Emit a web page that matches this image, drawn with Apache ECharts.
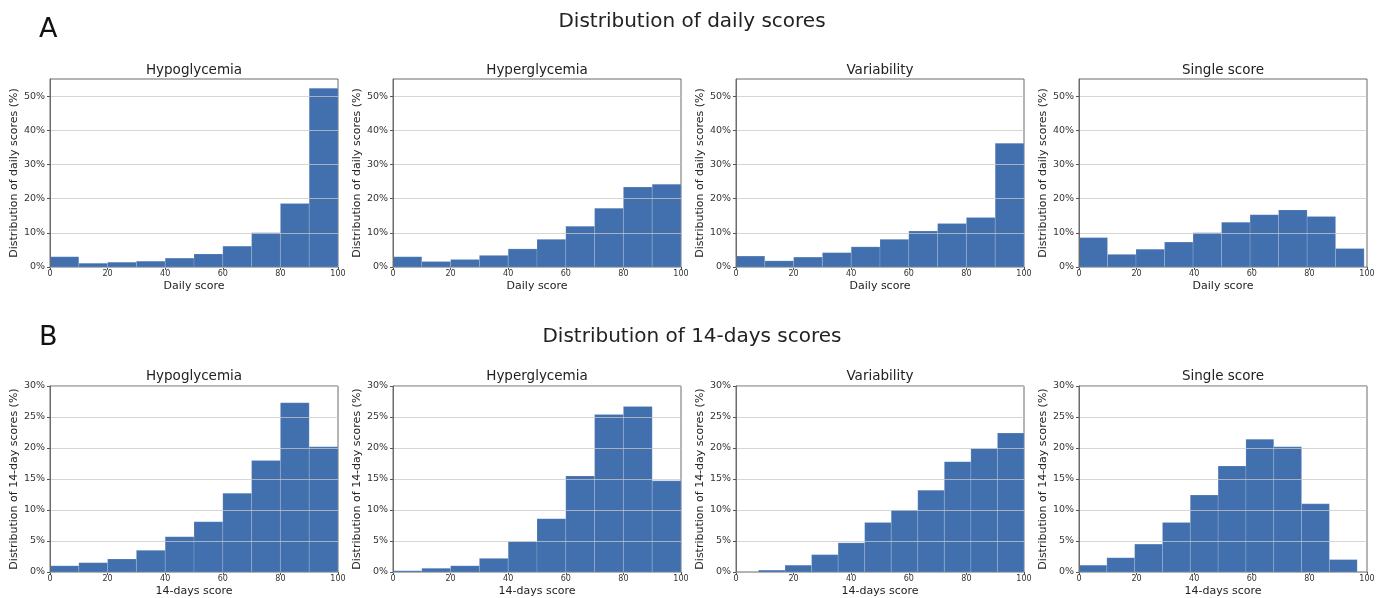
<!DOCTYPE html>
<html>
<head>
<meta charset="utf-8">
<title>Distribution of daily and 14-days scores</title>
<script src="https://cdn.jsdelivr.net/npm/echarts@6/dist/echarts.min.js"></script>
<style>
  html, body { margin: 0; padding: 0; background: #ffffff; }
  #chart { width: 1384px; height: 598px; }
</style>
</head>
<body>
<div id="chart"></div>
<script>
// ---- Panel titles and tick values ----
const panelTitles = ['Hypoglycemia', 'Hyperglycemia', 'Variability', 'Single score'];
const xTicks = [0, 20, 40, 60, 80, 100];
const dailyYTicks = [0, 10, 20, 30, 40, 50];
const twoWeekYTicks = [0, 5, 10, 15, 20, 25, 30];

// ---- Row A: daily scores, share of days per bin (%) ----
const dailyEdges = [0, 10, 20, 30, 40, 50, 60, 70, 80, 90, 100];
const dailySingleEdges = [0, 9.9, 19.8, 29.7, 39.6, 49.5, 59.4, 69.3, 79.2, 89.1, 99];
const dailyHypo = [3.0, 1.1, 1.4, 1.7, 2.6, 3.8, 6.1, 10.0, 18.6, 52.3];
const dailyHyper = [3.0, 1.6, 2.2, 3.4, 5.3, 8.1, 11.9, 17.2, 23.4, 24.2];
const dailyVar = [3.2, 1.8, 2.9, 4.2, 5.9, 8.1, 10.5, 12.7, 14.5, 36.2];
const dailySingle = [8.6, 3.7, 5.2, 7.3, 10.0, 13.1, 15.3, 16.7, 14.8, 5.4];

// ---- Row B: 14-days scores, share of periods per bin (%) ----
const twoWeekEdges = [0, 10, 20, 30, 40, 50, 60, 70, 80, 90, 100];
const twoWeekVarEdges = [7.8, 17.02, 26.24, 35.46, 44.68, 53.9, 63.12, 72.34, 81.56, 90.78, 100];
const twoWeekSingleEdges = [0, 9.66, 19.32, 28.98, 38.64, 48.3, 57.96, 67.62, 77.28, 86.94, 96.6];
const twoWeekHypo = [1.0, 1.5, 2.1, 3.5, 5.7, 8.1, 12.7, 18.0, 27.3, 20.2];
const twoWeekHyper = [0.2, 0.6, 1.0, 2.2, 4.9, 8.6, 15.5, 25.4, 26.7, 14.7];
const twoWeekVar = [0.3, 1.1, 2.8, 4.7, 8.0, 10.0, 13.2, 17.8, 19.9, 22.4];
const twoWeekSingle = [1.1, 2.3, 4.5, 8.0, 12.4, 17.1, 21.4, 20.2, 11.0, 2.0];

// ---- Row settings ----
const rows = [
  {
    suptitle: 'Distribution of daily scores', tag: 'A',
    yName: 'Distribution of daily scores (%)', xName: 'Daily score',
    yMax: 55, yTicks: dailyYTicks,
    panels: [
      [dailyEdges, dailyHypo], [dailyEdges, dailyHyper],
      [dailyEdges, dailyVar], [dailySingleEdges, dailySingle]
    ]
  },
  {
    suptitle: 'Distribution of 14-days scores', tag: 'B',
    yName: 'Distribution of 14-day scores (%)', xName: '14-days score',
    yMax: 30, yTicks: twoWeekYTicks,
    panels: [
      [twoWeekEdges, twoWeekHypo], [twoWeekEdges, twoWeekHyper],
      [twoWeekVarEdges, twoWeekVar], [twoWeekSingleEdges, twoWeekSingle]
    ]
  }
];

// ---- Layout ----
const plotLefts = [50, 393, 736, 1079];
const plotWidth = 288;
const rowTops = [79, 386];
const rowHeights = [188, 187];
const suptitleY = [22, 337];
const panelTitleY = [70, 376];
const tagY = [30, 338];

const barColor = '#4270ae';
const textColor = '#222222';
const spineColor = '#6b6b6b';
const font = 'DejaVu Sans';

function renderBin(params, api) {
  const topLeft = api.coord([api.value(0), api.value(2)]);
  const bottomRight = api.coord([api.value(1), 0]);
  return {
    type: 'rect',
    shape: {
      x: topLeft[0], y: topLeft[1],
      width: bottomRight[0] - topLeft[0],
      height: bottomRight[1] - topLeft[1]
    },
    style: { fill: barColor, stroke: 'rgba(255,255,255,0.14)', lineWidth: 1 }
  };
}

const grid = [], xAxis = [], yAxis = [], series = [], graphic = [];

rows.forEach((row, r) => {
  graphic.push({
    type: 'text', x: 692, y: suptitleY[r],
    style: { text: row.suptitle, font: '20px "' + font + '"', fill: textColor,
             textAlign: 'center', textVerticalAlign: 'middle' }
  });
  graphic.push({
    type: 'text', x: 39, y: tagY[r],
    style: { text: row.tag, font: '27px "' + font + '"', fill: '#111111',
             textAlign: 'left', textVerticalAlign: 'middle' }
  });

  row.panels.forEach((panel, c) => {
    const idx = r * 4 + c;
    const [edges, values] = panel;
    grid.push({
      left: plotLefts[c], top: rowTops[r], width: plotWidth, height: rowHeights[r],
      show: true, borderColor: spineColor, borderWidth: 1, backgroundColor: 'transparent'
    });
    graphic.push({
      type: 'text', x: plotLefts[c] + plotWidth / 2, y: panelTitleY[r],
      style: { text: panelTitles[c], font: '13.5px "' + font + '"', fill: textColor,
               textAlign: 'center', textVerticalAlign: 'middle' }
    });
    xAxis.push({
      type: 'value', gridIndex: idx, min: xTicks[0], max: xTicks[xTicks.length - 1], interval: 20,
      name: row.xName, nameLocation: 'middle', nameGap: 14,
      nameTextStyle: { fontFamily: font, fontSize: 11, color: textColor },
      axisLine: { show: true, lineStyle: { color: spineColor, width: 1 } },
      axisTick: { show: true, length: 3, lineStyle: { color: '#555' } },
      axisLabel: { fontFamily: font, fontSize: 8, color: '#333', margin: 3 },
      splitLine: { show: false }
    });
    yAxis.push({
      type: 'value', gridIndex: idx, min: 0, max: row.yMax, z: 5,
      name: row.yName, nameLocation: 'middle', nameGap: 29, nameRotate: 90,
      nameTextStyle: { fontFamily: font, fontSize: 11, color: textColor },
      axisLine: { show: true, lineStyle: { color: spineColor, width: 1 } },
      axisTick: { show: true, length: 3, customValues: row.yTicks, lineStyle: { color: '#555' } },
      axisLabel: {
        fontFamily: font, fontSize: 9.5, color: '#333', margin: 5,
        customValues: row.yTicks, formatter: v => v + '%'
      },
      splitLine: { show: true, lineStyle: { color: 'rgba(200,200,200,0.75)', width: 1 } }
    });
    series.push({
      type: 'custom', xAxisIndex: idx, yAxisIndex: idx,
      renderItem: renderBin,
      encode: { x: [0, 1], y: 2 },
      data: values.map((v, k) => [edges[k], edges[k + 1], v]),
      silent: true, z: 2
    });
  });
});

const chart = echarts.init(document.getElementById('chart'), null, { renderer: 'canvas' });
chart.setOption({
  backgroundColor: '#ffffff',
  animation: false,
  grid, xAxis, yAxis, series, graphic
});
</script>
</body>
</html>
